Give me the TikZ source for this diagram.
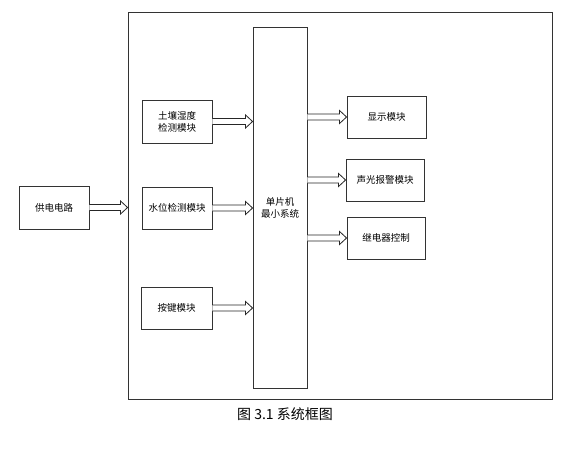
\documentclass[tikz,border=0pt]{standalone}
\usepackage{fontspec}
\setmainfont{Noto Sans CJK SC}
\usetikzlibrary{calc}
\tikzset{
  blk/.style={draw=black!80, line width=0.9pt, fill=white, inner sep=0pt, align=center,
    font=\fontsize{9.5}{12}\selectfont},
  arrowline/.style={draw=black!85, line width=0.8pt, fill=white, line join=miter},
}
\newcommand{\harrow}[2]{%
  \path (#1) coordinate (hs) (#2) coordinate (he);
  \draw[arrowline] ($(hs)+(0,-3)$) -- ($(he)+(-7,-3)$) -- ($(he)+(-7,-6.5)$) -- (he)
    -- ($(he)+(-7,6.5)$) -- ($(he)+(-7,3)$) -- ($(hs)+(0,3)$);}
\begin{document}
\begin{tikzpicture}[x=1pt,y=-1pt]
\useasboundingbox (0,0) rectangle (576,460);
\node[blk, minimum width=424, minimum height=387] (outer) at (340,205.5) {};
\node[blk, minimum width=70, minimum height=43] (power) at (54,207.5) {供电电路};
\node[blk, minimum width=70, minimum height=43] (soil) at (177,121.5) {土壤湿度\\检测模块};
\node[blk, minimum width=70, minimum height=42] (water) at (177,208) {水位检测模块};
\node[blk, minimum width=71, minimum height=42] (key) at (176.5,308) {按键模块};
\node[blk, minimum width=54, minimum height=361] (mcu) at (280,207.5) {单片机\\最小系统};
\node[blk, minimum width=79, minimum height=42] (disp) at (386.5,117) {显示模块};
\node[blk, minimum width=78, minimum height=42] (alarm) at (385,180) {声光报警模块};
\node[blk, minimum width=78, minimum height=42] (relay) at (386,238) {继电器控制};
\node[font=\fontsize{14}{16}\selectfont, inner sep=0pt] (cap) at (285,414) {图 3.1 系统框图};
\harrow{power.east}{power.east -| outer.west}
\harrow{soil.east}{soil.east -| mcu.west}
\harrow{water.east}{water.east -| mcu.west}
\harrow{key.east}{key.east -| mcu.west}
\harrow{disp.west -| mcu.east}{disp.west}
\harrow{alarm.west -| mcu.east}{alarm.west}
\harrow{relay.west -| mcu.east}{relay.west}
\end{tikzpicture}
\end{document}
